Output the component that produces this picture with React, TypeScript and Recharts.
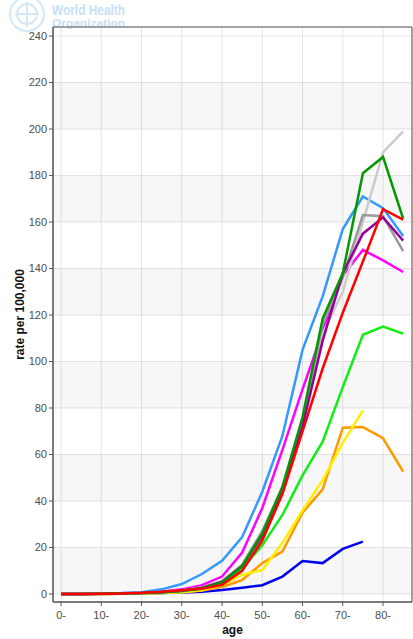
import React from 'react';
import { LineChart, Line, XAxis, YAxis, CartesianGrid, ReferenceArea } from 'recharts';

const ages = [0, 5, 10, 15, 20, 25, 30, 35, 40, 45, 50, 55, 60, 65, 70, 75, 80, 85];
const xTicks = [0, 10, 20, 30, 40, 50, 60, 70, 80];
const yTicks = [0, 20, 40, 60, 80, 100, 120, 140, 160, 180, 200, 220, 240];
const bandStarts = [0, 40, 80, 120, 160, 200];

const lightBlue = [0, 0.1, 0.2, 0.4, 0.8, 2, 4.3, 8.6, 14.3, 24.5, 44, 68, 105, 128, 157, 171, 166, 154];
const magenta = [0, 0, 0.1, 0.3, 0.5, 1, 2, 3.8, 7.5, 17.8, 37, 62, 88, 113, 137, 148, 143.5, 138.5];
const lightGray = [0, 0, 0.1, 0.2, 0.4, 0.8, 1.5, 2.8, 5.5, 12.5, 27, 45, 73, 112, 130, 160, 190, 199];
const gray = [0, 0, 0.1, 0.2, 0.4, 0.8, 1.5, 2.8, 5.5, 12.5, 27, 46, 75, 116, 136, 163, 162.5, 147.5];
const purple = [0, 0, 0.1, 0.2, 0.4, 0.8, 1.4, 2.6, 5.2, 12, 25, 44, 72, 109, 138, 155, 162, 152];
const darkGreen = [0, 0, 0.1, 0.2, 0.4, 0.8, 1.4, 2.5, 5, 12, 26, 46, 76, 118.5, 138, 181, 188, 161.5];
const red = [0, 0, 0.1, 0.2, 0.5, 1, 1.6, 2.3, 4, 10, 23, 43, 70, 97, 121, 143, 165.5, 161];
const lime = [0, 0, 0.1, 0.2, 0.3, 0.6, 1.2, 2.2, 5, 11, 21, 34, 51, 65.5, 89, 111.5, 115, 112];
const yellow = [0, 0, 0, 0.1, 0.2, 0.4, 0.8, 1.6, 3.8, 8.2, 10.3, 22, 36, 49, 65, 79, null, null];
const orange = [0, 0, 0, 0.1, 0.2, 0.4, 0.8, 1.5, 3, 6, 13.3, 18.2, 35, 45, 71.5, 71.8, 67, 52.6];
const blue = [0, 0, 0, 0.1, 0.2, 0.4, 0.6, 1, 1.7, 2.7, 3.8, 7.5, 14.2, 13.3, 19.4, 22.5, null, null];

const series = [
  { key: 'blue', values: blue, color: '#0000ee' },
  { key: 'orange', values: orange, color: '#ff9900' },
  { key: 'yellow', values: yellow, color: '#ffee00' },
  { key: 'lime', values: lime, color: '#11ee11' },
  { key: 'magenta', values: magenta, color: '#ff00ff' },
  { key: 'lightBlue', values: lightBlue, color: '#3399ff' },
  { key: 'lightGray', values: lightGray, color: '#cccccc' },
  { key: 'gray', values: gray, color: '#999999' },
  { key: 'purple', values: purple, color: '#990099' },
  { key: 'darkGreen', values: darkGreen, color: '#009900' },
  { key: 'red', values: red, color: '#ff0000' },
];

const data = ages.map((age, i) => {
  const row: Record<string, number | null> = { age };
  series.forEach((s) => {
    row[s.key] = s.values[i];
  });
  return row;
});

const X_DOMAIN: [number, number] = [-2, 87.2];
const Y_DOMAIN: [number, number] = [-3.44, 243.9];
const tickStyle = { fill: '#4d4d4d', fontSize: 11 };

// faded WHO mark behind the plot, top-left
const Watermark = () => (
  <svg
    width={140}
    height={32}
    style={{ position: 'absolute', left: 0, top: 0, pointerEvents: 'none' }}
  >
    <g stroke="#d3e7f6" fill="none" strokeWidth={2}>
      <circle cx={27} cy={14} r={17} />
      <circle cx={27} cy={14} r={10} />
      <line x1={27} y1={2} x2={27} y2={27} />
      <line x1={15} y1={14} x2={39} y2={14} />
    </g>
    <text x={52} y={15} fill="#c6e0f4" fontSize={14} fontWeight="bold" textLength={73} lengthAdjust="spacingAndGlyphs" fontFamily="Liberation Sans, Arial, sans-serif">
      World Health
    </text>
    <text x={52} y={27} fill="#c6e0f4" fontSize={10} fontWeight="bold" textLength={73} lengthAdjust="spacingAndGlyphs" fontFamily="Liberation Sans, Arial, sans-serif">
      Organization
    </text>
  </svg>
);

export default function App() {
  return (
    <div style={{ position: 'absolute', left: 0, top: 0, width: 413, height: 639, background: '#fff' }}>
      <Watermark />
      <div style={{ position: 'absolute', left: 0, top: 0 }}>
        <LineChart
          width={413}
          height={639}
          data={data}
          margin={{ top: 27, right: 1, bottom: 0, left: 0 }}
          style={{ fontFamily: 'Liberation Sans, Arial, sans-serif' }}
        >
          {bandStarts.map((b) => (
            <ReferenceArea key={b} x1={X_DOMAIN[0]} x2={X_DOMAIN[1]} y1={b} y2={b + 20} fill="#000" fillOpacity={0.03} stroke="none" />
          ))}
          <CartesianGrid stroke="#e4e4e4" strokeWidth={1} />
          <XAxis
            dataKey="age"
            type="number"
            domain={X_DOMAIN}
            allowDataOverflow
            ticks={xTicks}
            tickFormatter={(v) => `${v}-`}
            tick={tickStyle}
            tickSize={4}
            tickMargin={5}
            stroke="#555"
            height={37}
            label={{ value: 'age', position: 'insideBottom', offset: 5, fontSize: 12, fontWeight: 'bold', fill: '#111' }}
          />
          <YAxis
            type="number"
            domain={Y_DOMAIN}
            allowDataOverflow
            ticks={yTicks}
            tick={tickStyle}
            tickSize={4}
            tickMargin={2}
            stroke="#555"
            width={53}
            label={{
              value: 'rate per 100,000',
              angle: -90,
              position: 'insideLeft',
              offset: 20,
              fontSize: 12,
              fontWeight: 'bold',
              fill: '#111',
              style: { textAnchor: 'middle' },
            }}
          />
          <ReferenceArea x1={X_DOMAIN[0]} x2={X_DOMAIN[1]} y1={Y_DOMAIN[0]} y2={Y_DOMAIN[1]} fill="#fff" fillOpacity={0} stroke="#555" />
          {series.map((s) => (
            <Line
              key={s.key}
              dataKey={s.key}
              stroke={s.color}
              strokeWidth={2.5}
              dot={false}
              isAnimationActive={false}
            />
          ))}
        </LineChart>
      </div>
    </div>
  );
}
